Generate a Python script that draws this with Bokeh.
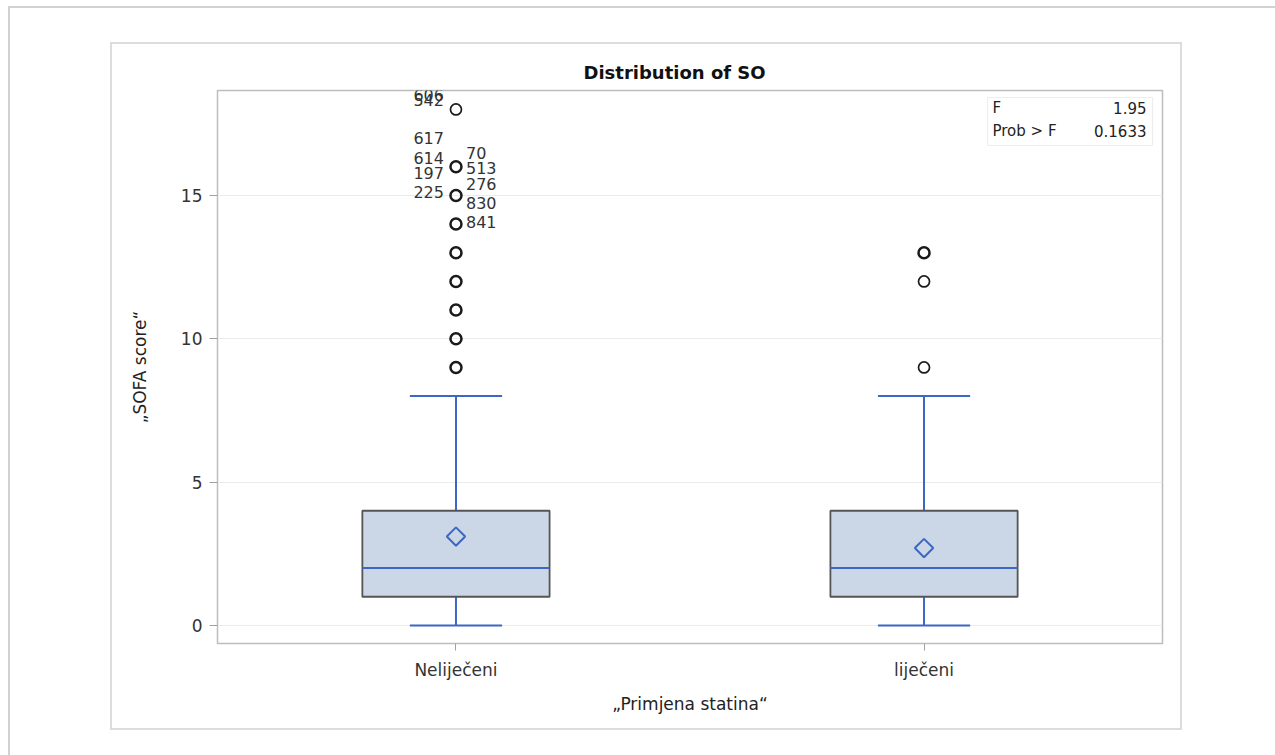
from bokeh.plotting import figure
from bokeh.models import (Range1d, FactorRange, BoxAnnotation, Label, ColumnDataSource,
                          FixedTicker, InlineStyleSheet)
from bokeh.transform import dodge
from bokeh.core.properties import value
from bokeh.embed import file_html
from bokeh.resources import INLINE

# ---------------- data ----------------
categories = ["Neliječeni", "liječeni"]
q1 = [1, 1]
median = [2, 2]
q3 = [4, 4]
mean = [3.1, 2.7]
whisker_low = [0, 0]
whisker_high = [8, 8]

outlier_group = ["Neliječeni"] * 9 + ["liječeni"] * 3
outlier_value = [9, 10, 11, 12, 13, 14, 15, 16, 18, 9, 12, 13]
outlier_count = [3, 3, 3, 3, 3, 3, 2, 2, 1, 1, 1, 2]

label_ids = ["606", "542", "617", "614", "70", "513", "197", "225", "276", "830", "841"]
label_values = [18, 18, 16, 16, 16, 16, 15, 15, 15, 15, 14]
label_side = ["left", "left", "left", "left", "right", "right",
              "left", "left", "right", "right", "right"]

y_ticks = [0, 5, 10, 15]
stat_names = ["F", "Prob > F"]
stat_values = ["1.95", "0.1633"]

title_text = "Distribution of SO"
x_label = "„Primjena statina“"
y_label = "„SOFA score“"

# ---------------- styling ----------------
FONT = "DejaVu Sans"
BLUE = "#3d67c4"
BOX_FILL = "#cbd6e6"

frames_css = InlineStyleSheet(css="""
:host { position: relative; }
:host::before {
  content: ""; position: absolute; left: 110px; top: 42px; width: 1068px; height: 684px;
  border: 2px solid #dcdcdc; pointer-events: none; z-index: 20;
}
:host::after {
  content: ""; position: absolute; left: 8px; top: 6px; width: 1400px; height: 1000px;
  border-top: 2px solid #d2d2d2; border-left: 2px solid #d2d2d2; pointer-events: none; z-index: 20;
}
""")

p = figure(width=1267, height=747,
           x_range=FactorRange(*categories, range_padding=0.0095),
           y_range=Range1d(-0.63, 18.66), output_backend="svg",
           toolbar_location=None, title=title_text,
           min_border_left=217, min_border_right=105,
           min_border_top=90, min_border_bottom=104,
           stylesheets=[frames_css])

p.background_fill_color = "white"
p.border_fill_color = "white"
p.outline_line_color = "#bdbdbd"
p.outline_line_width = 1.5

p.title.align = "left"
p.title.offset = 366
p.title.text_font = FONT
p.title.text_font_size = "18px"
p.title.text_font_style = "bold"
p.title.text_color = "#111111"
p.title.standoff = 15

p.xgrid.grid_line_color = None
p.ygrid.grid_line_color = "#ebebeb"
p.ygrid.grid_line_width = 1.2

p.yaxis.ticker = FixedTicker(ticks=y_ticks)
for ax in (p.xaxis[0], p.yaxis[0]):
    ax.axis_line_color = None
    ax.major_tick_line_color = "#a0a0a0"
    ax.major_tick_in = 0
    ax.minor_tick_line_color = None
    ax.major_label_text_font = FONT
    ax.major_label_text_font_size = "17px"
    ax.major_label_text_color = "#333333"
    ax.axis_label_text_font = FONT
    ax.axis_label_text_font_size = "17px"
    ax.axis_label_text_font_style = "normal"
    ax.axis_label_text_color = "#222222"

p.xaxis.axis_label = x_label
p.yaxis.axis_label = y_label
p.xaxis.major_tick_out = 7
p.yaxis.major_tick_out = 8
p.xaxis.major_label_standoff = 9
p.yaxis.major_label_standoff = 7
p.xaxis.axis_label_standoff = 11
p.yaxis.axis_label_standoff = 28

# ---------------- boxes ----------------
src = ColumnDataSource(dict(cat=categories, q1=q1, median=median, q3=q3,
                            mean=mean, lo=whisker_low, hi=whisker_high))

# whiskers
p.segment(x0="cat", x1="cat", y0="q3", y1="hi", source=src, line_color=BLUE, line_width=2)
p.segment(x0="cat", x1="cat", y0="lo", y1="q1", source=src, line_color=BLUE, line_width=2)
cap = 0.0985
p.segment(x0=dodge("cat", -cap, range=p.x_range), x1=dodge("cat", cap, range=p.x_range),
          y0="hi", y1="hi", source=src, line_color=BLUE, line_width=2)
p.segment(x0=dodge("cat", -cap, range=p.x_range), x1=dodge("cat", cap, range=p.x_range),
          y0="lo", y1="lo", source=src, line_color=BLUE, line_width=2)

# box
p.vbar(x="cat", top="q3", bottom="q1", width=0.4, source=src,
       fill_color=BOX_FILL, line_color="#555555", line_width=1.8)
# median
half = 0.2
p.segment(x0=dodge("cat", -half, range=p.x_range), x1=dodge("cat", half, range=p.x_range),
          y0="median", y1="median", source=src, line_color=BLUE, line_width=2)
# mean
p.scatter(x="cat", y="mean", source=src, marker="square", angle=0.785398,
          size=13, fill_color=None, line_color=BLUE, line_width=2)

# ---------------- outliers ----------------
osrc = ColumnDataSource(dict(cat=outlier_group, val=outlier_value,
                             lw=[2.5 if c > 1 else 1.7 for c in outlier_count]))
p.scatter(x="cat", y="val", source=osrc, marker="circle", size=11,
          fill_color=None, line_color="#1a1a1a", line_width="lw")

# outlier id labels (vertical staggering offsets in px, layout only)
stagger = [-14, -9, -29, -9, -14, 1, -22, -3, -11, 8, -2]
lsrc = ColumnDataSource(dict(
    cat=["Neliječeni"] * len(label_ids), val=label_values, txt=label_ids,
    xo=[-12 if s == "left" else 10 for s in label_side],
    yo=stagger,
    al=["right" if s == "left" else "left" for s in label_side]))
p.text(x="cat", y="val", text="txt", source=lsrc, x_offset="xo", y_offset="yo",
       text_align="al", text_baseline="middle", text_font=value(FONT),
       text_font_size="16px", text_color="#333333")

# ---------------- inset statistics box ----------------
p.add_layout(BoxAnnotation(left=770, right=935, top=546, bottom=498,
                           left_units="screen", right_units="screen",
                           top_units="screen", bottom_units="screen",
                           fill_color="white", fill_alpha=1.0,
                           line_color="#c8c8c8", line_width=1.2))
for i, (nm, vl) in enumerate(zip(stat_names, stat_values)):
    yy = 536 - 23 * i
    p.add_layout(Label(x=775, y=yy, x_units="screen", y_units="screen", text=nm,
                       text_font=FONT, text_font_size="15px", text_color="#222222",
                       text_baseline="middle", text_align="left"))
    p.add_layout(Label(x=929, y=yy, x_units="screen", y_units="screen", text=vl,
                       text_font=FONT, text_font_size="15px", text_color="#222222",
                       text_baseline="middle", text_align="right"))

open("out.html", "w").write(file_html(p, INLINE))
